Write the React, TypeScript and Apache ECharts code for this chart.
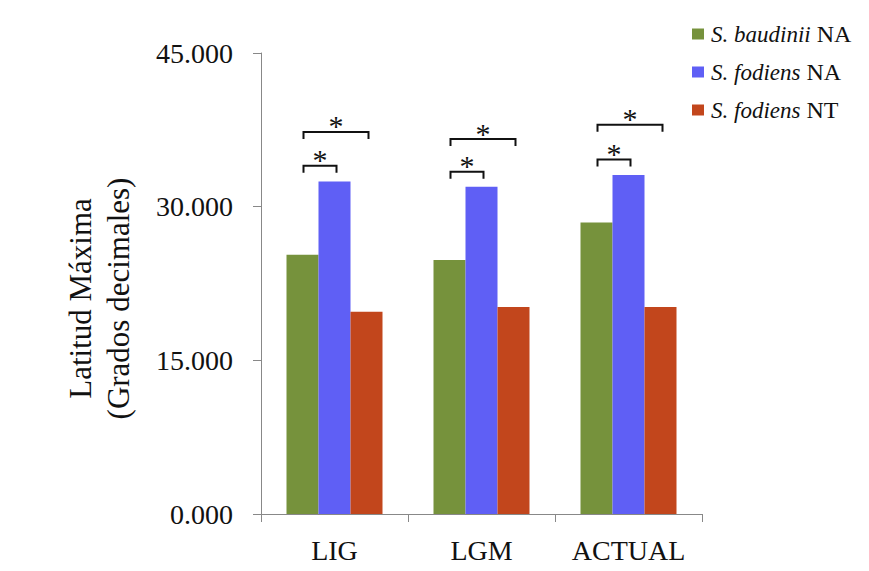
import React, { useEffect, useRef } from "react";
import * as echarts from "echarts";

const categories = ["LIG", "LGM", "ACTUAL"];
const seriesNames = ["S. baudinii NA", "S. fodiens NA", "S. fodiens NT"];
const baudiniiNA = [25.3, 24.8, 28.45];
const fodiensNA = [32.45, 31.95, 33.1];
const fodiensNT = [19.75, 20.2, 20.2];
const yTicks = [0, 15, 30, 45];
// significance brackets: [category index, from bar index, to bar index, height]
const brackets = [
  [0, 0, 1, 34.0],
  [0, 0, 2, 37.3],
  [1, 0, 1, 33.4],
  [1, 0, 2, 36.6],
  [2, 0, 1, 34.6],
  [2, 0, 2, 38.0],
];

const colors = ["#76923C", "#5F5FF5", "#C2461C"];
const FONT = "'Liberation Serif', 'Times New Roman', serif";
const BAR_W = 32;

export default function App() {
  const ref = useRef<HTMLDivElement>(null);
  useEffect(() => {
    if (!ref.current) return;
    const chart = echarts.init(ref.current, undefined, { renderer: "svg" });
    const values = [baudiniiNA, fodiensNA, fodiensNT];
    chart.setOption({
      animation: false,
      backgroundColor: "#ffffff",
      textStyle: { fontFamily: FONT },
      grid: { left: 261, right: 167, top: 53, bottom: 57, containLabel: false },
      legend: {
        orient: "vertical",
        left: 687,
        top: 17,
        itemWidth: 12,
        itemHeight: 11,
        itemGap: 14,
        icon: "rect",
        data: seriesNames,
        formatter: (name: string) => {
          const idx = name.lastIndexOf(" ");
          return `{i|${name.slice(0, idx)}}{n|${name.slice(idx)}}`;
        },
        textStyle: {
          fontFamily: FONT,
          fontSize: 24,
          color: "#111",
          padding: [0, 0, 0, 2],
          rich: {
            i: { fontFamily: FONT, fontSize: 23, fontStyle: "italic", color: "#111" },
            n: { fontFamily: FONT, fontSize: 24, color: "#111" },
          },
        },
      },
      xAxis: {
        type: "category",
        data: categories,
        axisLine: { lineStyle: { color: "#888", width: 1 } },
        axisTick: { show: true, length: 8, lineStyle: { color: "#888" } },
        axisLabel: { fontFamily: FONT, fontSize: 28, color: "#111", margin: 22, interval: 0 },
      },
      yAxis: {
        type: "value",
        min: 0,
        max: 45,
        interval: 15,
        name: "Latitud Máxima\n(Grados decimales)",
        nameLocation: "middle",
        nameGap: 124,
        nameRotate: 90,
        nameTextStyle: {
          fontFamily: FONT,
          fontSize: 31,
          color: "#111",
          lineHeight: 38,
          padding: [0, 30, 0, 0],
        },
        axisLine: { show: true, lineStyle: { color: "#888", width: 1 } },
        axisTick: { show: true, length: 8, lineStyle: { color: "#888" } },
        splitLine: { show: false },
        axisLabel: {
          fontFamily: FONT,
          fontSize: 28,
          color: "#111",
          margin: 28,
          formatter: (v: number) => (yTicks.includes(v) ? v.toFixed(3) : ""),
        },
      },
      series: [
        ...seriesNames.map((n, i) => ({
          name: n,
          type: "bar",
          data: values[i],
          barWidth: BAR_W,
          barGap: "0%",
          itemStyle: { color: colors[i] },
        })),
        {
          type: "custom",
          data: brackets,
          z: 10,
          itemStyle: { color: "#111" },
          renderItem: (params: any, api: any) => {
            const cat = api.value(0);
            const a = api.value(1);
            const b = api.value(2);
            const y = api.value(3);
            const c = api.coord([cat, y]);
            const xa = c[0] + (a - 1) * BAR_W + 1;
            const xb = c[0] + (b - 1) * BAR_W + 2;
            const py = c[1];
            return {
              type: "group",
              children: [
                {
                  type: "polyline",
                  shape: { points: [[xa, py + 7], [xa, py], [xb, py], [xb, py + 7]] },
                  style: { stroke: "#111", fill: null, lineWidth: 2 },
                },
                {
                  type: "text",
                  style: {
                    text: "*",
                    x: (xa + xb) / 2,
                    y: py - 21,
                    align: "center",
                    verticalAlign: "top",
                    fontFamily: FONT,
                    fontSize: 30,
                    fill: "#111",
                  },
                },
              ],
            };
          },
        },
      ],
    });
    return () => chart.dispose();
  }, []);
  return (
    <div
      ref={ref}
      style={{ position: "absolute", left: 0, top: 0, width: 869, height: 571 }}
    />
  );
}
